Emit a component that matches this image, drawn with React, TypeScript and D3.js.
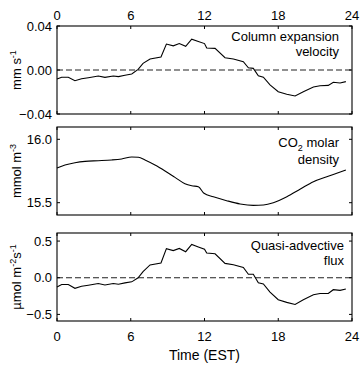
import * as d3 from "d3";

// ── Data ─────────────────────────────────────────────────────────────────────
const hours = [0, 0.38, 0.92, 1.46, 2.0, 2.55, 3.36, 3.9, 4.58, 5.0, 5.53, 6.08, 6.6, 7.0, 7.57, 8.46, 8.9, 9.46, 9.95, 10.47, 10.96, 11.5, 12.0, 12.18, 12.86, 13.67, 14.35, 15.16, 15.57, 15.97, 16.38, 16.79, 17.33, 18.0, 18.69, 19.37, 20.04, 20.86, 21.4, 22.07, 22.48, 23.03, 23.5];
const velocity = [-0.0082, -0.0066, -0.0066, -0.0097, -0.0079, -0.007, -0.0055, -0.0067, -0.0055, -0.006, -0.0048, -0.0036, 0.0006, 0.006, 0.01, 0.0118, 0.0236, 0.022, 0.024, 0.0215, 0.028, 0.026, 0.024, 0.02, 0.0197, 0.0112, 0.01, 0.0076, 0.002, 0.0015, -0.0052, -0.0066, -0.0136, -0.0197, -0.022, -0.0236, -0.0197, -0.0155, -0.0143, -0.014, -0.0112, -0.0118, -0.0106];
const flux = [-0.126, -0.093, -0.093, -0.144, -0.116, -0.102, -0.079, -0.098, -0.079, -0.088, -0.07, -0.056, 0, 0.084, 0.174, 0.2, 0.397, 0.37, 0.4, 0.355, 0.453, 0.42, 0.39, 0.336, 0.327, 0.196, 0.178, 0.14, 0.047, 0.047, -0.07, -0.084, -0.196, -0.3, -0.336, -0.364, -0.3, -0.233, -0.214, -0.214, -0.163, -0.172, -0.154];

const densHours = [0, 0.65, 1.46, 2.28, 3.36, 4.45, 5.26, 6.08, 6.62, 7.16, 7.97, 8.79, 9.6, 10.41, 10.96, 11.5, 11.96, 12.72, 13.8, 14.9, 15.97, 16.8, 17.6, 18.7, 19.8, 20.86, 21.95, 22.76, 23.5];
const density = [15.773, 15.797, 15.815, 15.826, 15.831, 15.837, 15.845, 15.86, 15.858, 15.837, 15.797, 15.75, 15.7, 15.65, 15.634, 15.626, 15.574, 15.547, 15.516, 15.49, 15.479, 15.482, 15.5, 15.547, 15.608, 15.666, 15.705, 15.732, 15.758];

const xTicks = [0, 6, 12, 18, 24];
const velTicks = [-0.04, 0, 0.04];
const densTicks = [15.5, 16.0];
const fluxTicks = [-0.5, 0, 0.5];

// ── Layout ───────────────────────────────────────────────────────────────────
const W = 360, H = 365;
const L = 57, R = 352;
const FONT = "'Liberation Sans', Arial, sans-serif";

const x = d3.scaleLinear().domain([0, 24]).range([L, R]);

type Panel = {
  top: number; bottom: number; domain: [number, number];
  ticks: number[]; fmt: (v: number) => string;
  xs: number[]; ys: number[]; zero: boolean; smooth: boolean;
};

const panels: Panel[] = [
  { top: 26, bottom: 114, domain: [-0.04, 0.04], ticks: velTicks, fmt: d3.format(".2f"), xs: hours, ys: velocity, zero: true, smooth: false },
  { top: 127, bottom: 215, domain: [15.403, 16.097], ticks: densTicks, fmt: d3.format(".1f"), xs: densHours, ys: density, zero: false, smooth: true },
  { top: 233, bottom: 321, domain: [-0.59, 0.61], ticks: fluxTicks, fmt: d3.format(".1f"), xs: hours, ys: flux, zero: true, smooth: false },
];

function PanelView({ p, idx }: { p: Panel; idx: number }) {
  const y = d3.scaleLinear().domain(p.domain).range([p.bottom, p.top]);
  const line = d3.line<number>()
    .x((_, i) => x(p.xs[i]))
    .y(v => y(v))
    .curve(p.smooth ? d3.curveMonotoneX : d3.curveLinear);
  const tl = 3;
  return (
    <g>
      {p.zero && (
        <line x1={L} x2={R} y1={y(0)} y2={y(0)} stroke="#222" strokeWidth={1.1} strokeDasharray="6,3" />
      )}
      <path d={line(p.ys) ?? ""} fill="none" stroke="#000" strokeWidth={1.1} />
      {/* x ticks, inward, top and bottom */}
      {xTicks.map(t => (
        <g key={"xt" + t}>
          <line x1={x(t)} x2={x(t)} y1={p.top} y2={p.top + tl} stroke="#000" />
          <line x1={x(t)} x2={x(t)} y1={p.bottom} y2={p.bottom - tl} stroke="#000" />
        </g>
      ))}
      {/* y ticks, inward, left and right */}
      {p.ticks.map(t => (
        <g key={"yt" + t}>
          <line x1={L} x2={L + tl} y1={y(t)} y2={y(t)} stroke="#000" />
          <line x1={R} x2={R - tl} y1={y(t)} y2={y(t)} stroke="#000" />
          <text x={L - 5} y={y(t)} dy="0.35em" textAnchor="end" fontSize={13} fontFamily={FONT}>
            {p.fmt(t)}
          </text>
        </g>
      ))}
      <rect x={L} y={p.top} width={R - L} height={p.bottom - p.top} fill="none" stroke="#000" strokeWidth={1.1} />
      {idx === 0 && xTicks.map(t => (
        <text key={"xl" + t} x={x(t)} y={p.top - 6} textAnchor="middle" fontSize={13} fontFamily={FONT}>{t}</text>
      ))}
      {idx === 2 && xTicks.map(t => (
        <text key={"xb" + t} x={x(t)} y={p.bottom + 20} textAnchor="middle" fontSize={13} fontFamily={FONT}>{t}</text>
      ))}
    </g>
  );
}

export default function App() {
  const mid = (p: Panel) => (p.top + p.bottom) / 2;
  return (
    <svg width={W} height={H} style={{ position: "absolute", left: 0, top: 0, background: "#fff" }}>
      <rect width={W} height={H} fill="#fff" />
      {panels.map((p, i) => <PanelView key={i} p={p} idx={i} />)}

      {/* panel titles */}
      <text textAnchor="end" fontSize={13} fontFamily={FONT}>
        <tspan x={339} y={41}>Column expansion</tspan>
        <tspan x={339} y={56}>velocity</tspan>
      </text>
      <text textAnchor="end" fontSize={13} fontFamily={FONT} x={339} y={147}>
        CO<tspan fontSize={9} dy={4}>2</tspan><tspan dy={-4}> molar</tspan>
      </text>
      <text textAnchor="end" fontSize={13} fontFamily={FONT} x={339} y={164}>density</text>
      <text textAnchor="end" fontSize={13} fontFamily={FONT}>
        <tspan x={344} y={250}>Quasi-advective</tspan>
        <tspan x={344} y={265}>flux</tspan>
      </text>

      {/* y-axis labels */}
      <text transform={`translate(21,${mid(panels[0])}) rotate(-90)`} textAnchor="middle" fontSize={13} fontFamily={FONT}>
        mm s<tspan fontSize={9} dy={-5}>-1</tspan>
      </text>
      <text transform={`translate(21,${mid(panels[1])}) rotate(-90)`} textAnchor="middle" fontSize={13} fontFamily={FONT}>
        mmol m<tspan fontSize={9} dy={-5}>-3</tspan>
      </text>
      <text transform={`translate(21,${mid(panels[2])}) rotate(-90)`} textAnchor="middle" fontSize={13} fontFamily={FONT}>
        µmol m<tspan fontSize={9} dy={-5}>-2</tspan><tspan dy={5}>s</tspan><tspan fontSize={9} dy={-5}>-1</tspan>
      </text>

      <text x={(L + R) / 2} y={360} textAnchor="middle" fontSize={14} fontFamily={FONT}>Time (EST)</text>
    </svg>
  );
}
